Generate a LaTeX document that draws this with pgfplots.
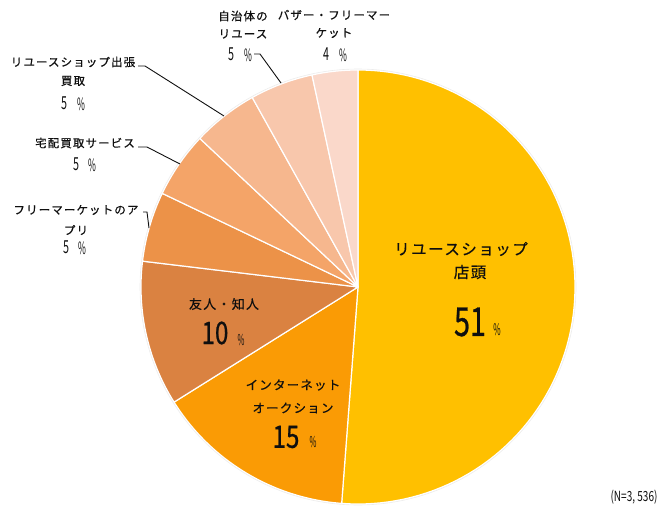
\documentclass[border=0pt]{standalone}
\usepackage{graphicx}
\usepackage{pgfplots}
\pgfplotsset{compat=1.18}
\usepackage{fontspec}
\setmainfont{Noto Sans CJK JP}
\definecolor{c1}{RGB}{255,192,0}
\definecolor{c2}{RGB}{250,155,5}
\definecolor{c3}{RGB}{218,130,65}
\definecolor{c4}{RGB}{236,146,72}
\definecolor{c5}{RGB}{244,164,104}
\definecolor{c6}{RGB}{246,183,142}
\definecolor{c7}{RGB}{248,199,172}
\definecolor{c8}{RGB}{250,216,202}
\definecolor{txt}{RGB}{15,15,15}
% slice: cumulative start (%), value (%), colour
\newcommand\pieslice[3]{%
  \pgfmathsetmacro\sa{90-3.6*#1}%
  \pgfmathsetmacro\sb{90-3.6*(#1+#2)}%
  \edef\tmp{\noexpand\addplot[fill=#3, draw=white, line width=1.2pt, line join=round, domain=\sb:\sa, samples=90]
    ({358+217*cos(x)},{287-217*sin(x)}) -- (axis cs:358,287) -- cycle;}%
  \tmp}
\newcommand\jptext[2]{{\fontsize{#1}{#1}\selectfont\addfontfeature{LetterSpace=10,FakeBold=0.5}#2}}
\newcommand\bignum[1]{\scalebox{0.72}[1]{\fontsize{40}{40}\selectfont\addfontfeature{FakeBold=0.8} #1}}
\newcommand\midnum[1]{\scalebox{0.78}[1]{\fontsize{31}{31}\selectfont\addfontfeature{FakeBold=0.8} #1}}
\newcommand\smnum[1]{\scalebox{0.6}[1]{\fontsize{18}{18}\selectfont #1}}
\newcommand\pctsign[1]{\scalebox{0.5}[1]{\fontsize{#1}{#1}\selectfont \%}}
\begin{document}
\begin{tikzpicture}
\useasboundingbox (0,0) rectangle (667bp,516bp);
\begin{axis}[at={(0,0)}, anchor=south west,
  scale only axis, width=667bp, height=516bp,
  xmin=0, xmax=667, ymin=0, ymax=516, y dir=reverse,
  hide axis, clip=false]
% shares as drawn in the reference (cumulative start, share)
\pieslice{0}{51.2}{c1}
\pieslice{51.2}{14.9}{c2}
\pieslice{66.1}{10.8}{c3}
\pieslice{76.9}{5.2}{c4}
\pieslice{82.1}{4.9}{c5}
\pieslice{87.0}{4.9}{c6}
\pieslice{91.9}{4.7}{c7}
\pieslice{96.6}{3.4}{c8}
\draw[white!85!gray, line width=0.6pt] (axis cs:358,287) circle[radius=218bp];
% inner labels
\node[txt] at (axis cs:461,249) {\jptext{15.5}{リユースショップ}};
\node[txt] at (axis cs:470,272) {\jptext{15.5}{店頭}};
\node[txt] at (axis cs:470,322) {\bignum{51}};
\node[txt] at (axis cs:497,330) {\pctsign{16}};
\node[txt] at (axis cs:224,304) {\jptext{13}{友人・知人}};
\node[txt] at (axis cs:215,333) {\midnum{10}};
\node[txt] at (axis cs:241,340) {\pctsign{15}};
\node[txt] at (axis cs:293,385) {\jptext{12.5}{インターネット}};
\node[txt] at (axis cs:293,408) {\jptext{12.5}{オークション}};
\node[txt] at (axis cs:286,437) {\midnum{15}};
\node[txt] at (axis cs:313,442) {\pctsign{15}};
% outer labels
\node[txt] at (axis cs:243,16) {\jptext{11.5}{自治体の}};
\node[txt] at (axis cs:243,34) {\jptext{11.5}{リユース}};
\node[txt] at (axis cs:231,54) {\smnum{5}};
\node[txt] at (axis cs:248,55) {\pctsign{17}};
\node[txt] at (axis cs:334,15) {\jptext{11.5}{バザー・フリーマー}};
\node[txt] at (axis cs:334,33) {\jptext{11.5}{ケット}};
\node[txt] at (axis cs:326,54) {\smnum{4}};
\node[txt] at (axis cs:343,55) {\pctsign{17}};
\node[txt] at (axis cs:73,62) {\jptext{11.5}{リユースショップ出張}};
\node[txt] at (axis cs:73,81) {\jptext{11.5}{買取}};
\node[txt] at (axis cs:64,103) {\smnum{5}};
\node[txt] at (axis cs:81,104) {\pctsign{17}};
\node[txt] at (axis cs:85,143) {\jptext{11.5}{宅配買取サービス}};
\node[txt] at (axis cs:76,164) {\smnum{5}};
\node[txt] at (axis cs:92,165) {\pctsign{17}};
\node[txt] at (axis cs:76,210) {\jptext{11.5}{フリーマーケットのア}};
\node[txt] at (axis cs:76,230) {\jptext{11.5}{プリ}};
\node[txt] at (axis cs:66,247) {\smnum{5}};
\node[txt] at (axis cs:82,248) {\pctsign{17}};
\node[txt] at (axis cs:634,497) {\scalebox{0.72}[1]{\fontsize{14}{14}\selectfont (N=3, 536)}};
% leader lines
\draw[txt, line width=0.9pt] (axis cs:254,54) -- (axis cs:260,54) -- (axis cs:281,83);
\draw[txt, line width=0.9pt] (axis cs:138,66) -- (axis cs:145,66) -- (axis cs:224,116);
\draw[txt, line width=0.9pt] (axis cs:138,147) -- (axis cs:147,147) -- (axis cs:180,164);
\draw[txt, line width=0.9pt] (axis cs:143,212) -- (axis cs:147,212) -- (axis cs:149,228);
\end{axis}
\end{tikzpicture}
\end{document}
